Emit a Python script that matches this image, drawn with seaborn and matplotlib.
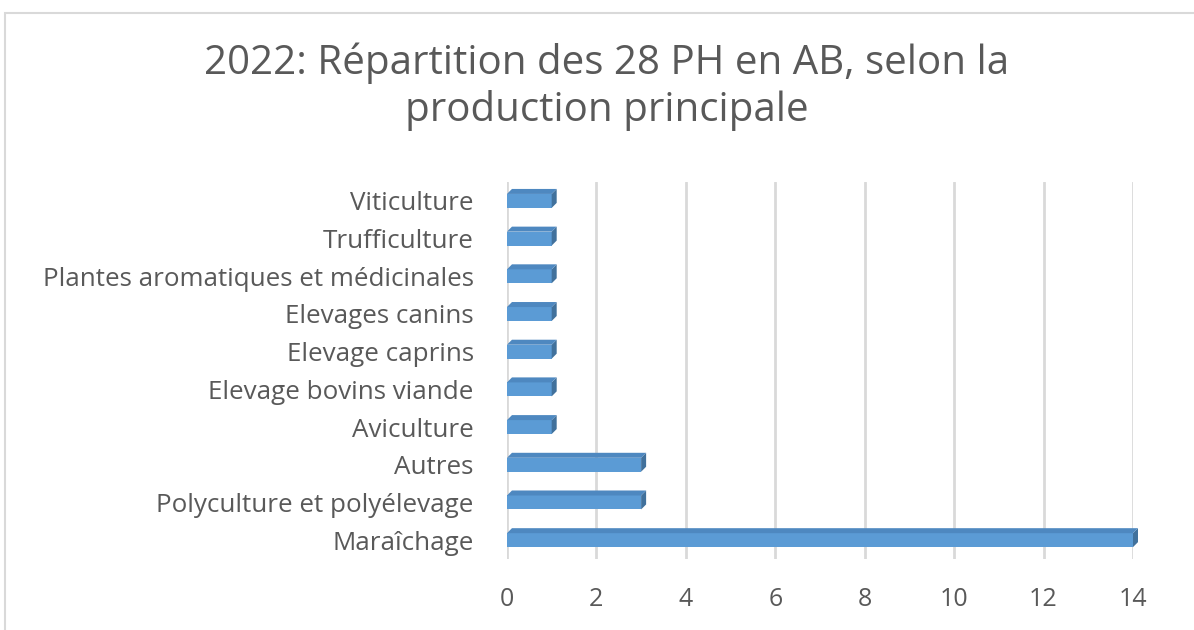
import matplotlib
matplotlib.use("Agg")
import matplotlib.pyplot as plt
from matplotlib.patches import Polygon, Rectangle
import seaborn as sns
import pandas as pd

# -----------------------------------------------
# DATA
# -----------------------------------------------
categories = [
    "Viticulture",
    "Trufficulture",
    "Plantes aromatiques et médicinales",
    "Elevages canins",
    "Elevage caprins",
    "Elevage bovins viande",
    "Aviculture",
    "Autres",
    "Polyculture et polyélevage",
    "Maraîchage",
]
counts = [1, 1, 1, 1, 1, 1, 1, 3, 3, 14]
x_ticks = [0, 2, 4, 6, 8, 10, 12, 14]
title = "2022: Répartition des 28 PH en AB, selon la\nproduction principale"

df = pd.DataFrame({"Production": categories, "Nombre": counts})

# -----------------------------------------------
# STYLE
# -----------------------------------------------
sns.set_style("white")
plt.rcParams["font.family"] = ["Open Sans", "DejaVu Sans"]
text_grey = "#595959"
bar_blue = "#5B9BD5"
side_blue = "#41719C"
top_blue = "#4E88C0"

fig = plt.figure(figsize=(11.94, 6.3), dpi=100)
ax = fig.add_axes([0.4246, 0.1127, 0.5243, 0.5983])

sns.barplot(data=df, x="Nombre", y="Production", orient="h",
            color=bar_blue, saturation=1, width=0.37, ax=ax,
            edgecolor="none")
ax.set_xlim(0, 14)

# fake 3D depth: side + top faces offset from each bar (in pixels)
dx = dy = 5
tr = ax.transData
inv = tr.inverted()
for bar in list(ax.patches):
    x0, y0 = bar.get_x(), bar.get_y()
    w, h = bar.get_width(), bar.get_height()
    a = tr.transform((x0, y0))
    b = tr.transform((x0 + w, y0 + h))
    left, right = min(a[0], b[0]), max(a[0], b[0])
    low, high = min(a[1], b[1]), max(a[1], b[1])
    side_pts = [(right, low), (right, high), (right + dx, high + dy), (right + dx, low + dy)]
    top_pts = [(left, high), (right, high), (right + dx, high + dy), (left + dx, high + dy)]
    for pts, c in [(side_pts, side_blue), (top_pts, top_blue)]:
        ax.add_patch(Polygon(inv.transform(pts), closed=True, facecolor=c,
                             edgecolor="none", zorder=3, clip_on=False))

ax.set_xticks(x_ticks)
ax.set_xticklabels([str(t) for t in x_ticks])
ax.xaxis.grid(True, color="#D9D9D9", linewidth=2)
ax.set_axisbelow(True)
for s in ax.spines.values():
    s.set_visible(False)
ax.set_xlabel("")
ax.set_ylabel("")
ax.tick_params(axis="x", colors=text_grey, labelsize=18, length=0, pad=20)
ax.tick_params(axis="y", colors=text_grey, labelsize=18.7, length=0, pad=24)

fig.text(0.508, 0.862, title, ha="center", va="center", fontsize=29,
         color=text_grey, linespacing=1.2)

# chart frame
fig.patches.append(Rectangle((0.004, -0.01), 1.1, 0.99, transform=fig.transFigure,
                             fill=False, edgecolor="#D9D9D9", linewidth=1.5))

fig.savefig("out.png", dpi=100)
